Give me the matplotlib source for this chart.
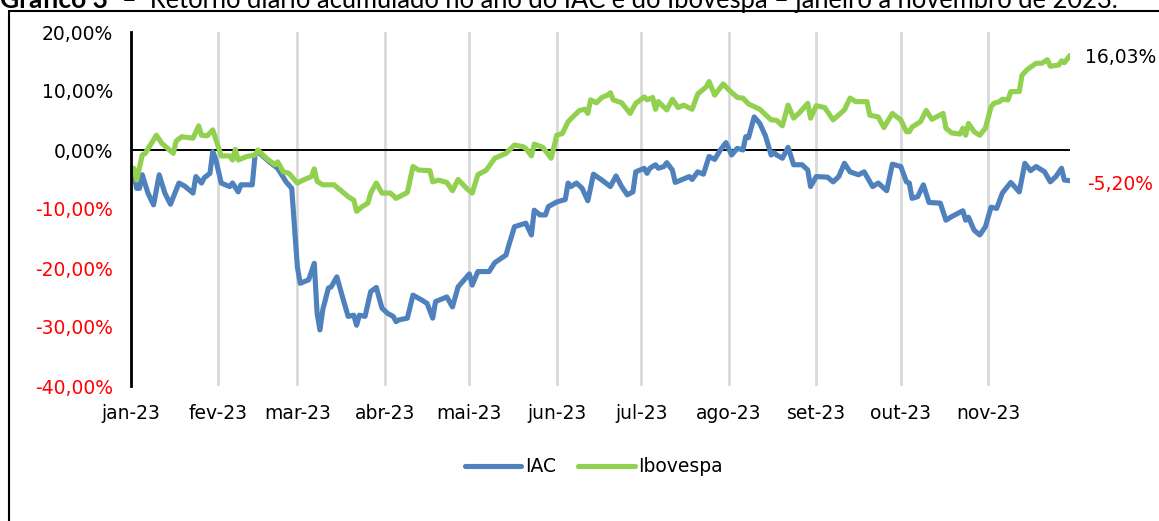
import matplotlib
matplotlib.use("Agg")
import matplotlib.pyplot as plt
import pandas as pd
from matplotlib.patches import Rectangle

# ---------------- data ----------------
datas_iac = [
    "2023-01-02", "2023-01-03", "2023-01-04", "2023-01-05", "2023-01-07", "2023-01-09",
    "2023-01-11", "2023-01-13", "2023-01-15", "2023-01-18", "2023-01-20", "2023-01-23",
    "2023-01-24", "2023-01-26", "2023-01-27", "2023-01-29", "2023-01-30", "2023-01-31",
    "2023-02-02", "2023-02-05", "2023-02-06", "2023-02-08", "2023-02-09", "2023-02-13",
    "2023-02-14", "2023-02-15", "2023-02-19", "2023-02-22", "2023-02-25", "2023-02-27",
    "2023-03-01", "2023-03-02", "2023-03-05", "2023-03-07", "2023-03-08", "2023-03-09",
    "2023-03-10", "2023-03-12", "2023-03-13", "2023-03-15", "2023-03-17", "2023-03-19",
    "2023-03-21", "2023-03-22", "2023-03-23", "2023-03-25", "2023-03-27", "2023-03-29",
    "2023-03-31", "2023-04-02", "2023-04-04", "2023-04-05", "2023-04-06", "2023-04-09",
    "2023-04-11", "2023-04-14", "2023-04-16", "2023-04-18", "2023-04-19", "2023-04-23",
    "2023-04-25", "2023-04-27", "2023-05-01", "2023-05-02", "2023-05-04", "2023-05-08",
    "2023-05-10", "2023-05-14", "2023-05-15", "2023-05-17", "2023-05-21", "2023-05-23",
    "2023-05-24", "2023-05-26", "2023-05-28", "2023-05-29", "2023-06-01", "2023-06-04",
    "2023-06-05", "2023-06-06", "2023-06-08", "2023-06-10", "2023-06-12", "2023-06-14",
    "2023-06-17", "2023-06-20", "2023-06-22", "2023-06-24", "2023-06-26", "2023-06-28",
    "2023-06-29", "2023-07-02", "2023-07-03", "2023-07-04", "2023-07-06", "2023-07-07",
    "2023-07-09", "2023-07-10", "2023-07-12", "2023-07-13", "2023-07-15", "2023-07-18",
    "2023-07-19", "2023-07-21", "2023-07-23", "2023-07-25", "2023-07-27", "2023-07-29",
    "2023-07-31", "2023-08-02", "2023-08-04", "2023-08-06", "2023-08-07", "2023-08-08",
    "2023-08-10", "2023-08-12", "2023-08-14", "2023-08-16", "2023-08-17", "2023-08-18",
    "2023-08-20", "2023-08-22", "2023-08-24", "2023-08-27", "2023-08-29", "2023-08-30",
    "2023-09-01", "2023-09-05", "2023-09-07", "2023-09-09", "2023-09-11", "2023-09-13",
    "2023-09-16", "2023-09-18", "2023-09-21", "2023-09-23", "2023-09-26", "2023-09-28",
    "2023-10-01", "2023-10-03", "2023-10-04", "2023-10-05", "2023-10-07", "2023-10-09",
    "2023-10-11", "2023-10-15", "2023-10-17", "2023-10-19", "2023-10-23", "2023-10-24",
    "2023-10-25", "2023-10-27", "2023-10-29", "2023-10-31", "2023-11-02", "2023-11-04",
    "2023-11-06", "2023-11-09", "2023-11-12", "2023-11-14", "2023-11-16", "2023-11-18",
    "2023-11-21", "2023-11-23", "2023-11-25", "2023-11-27", "2023-11-28", "2023-11-30",
]
iac = [
    -3.95, -6.5, -6.5, -4.2, -7.3, -9.3,
    -4.2, -7.3, -9.2, -5.6, -6.1, -7.3,
    -4.5, -5.6, -4.7, -3.95, -0.28, -1.5,
    -5.6, -6.2, -5.6, -7.1, -5.9, -5.9,
    -0.85, -0.28, -2.0, -3.1, -5.4, -6.5,
    -19.8, -22.6, -22.0, -19.2, -27.7, -30.5,
    -27.1, -23.4, -23.2, -21.5, -24.9, -28.2,
    -28.0, -29.7, -28.0, -28.2, -24.0, -23.3,
    -26.8, -27.7, -28.2, -29.1, -28.8, -28.5,
    -24.6, -25.4, -26.0, -28.5, -25.7, -24.9,
    -26.6, -23.2, -21.0, -22.9, -20.6, -20.6,
    -19.1, -17.8, -16.1, -13.0, -12.4, -14.4,
    -10.2, -11.0, -11.0, -9.6, -8.8, -8.4,
    -5.6, -6.2, -5.6, -6.5, -8.6, -4.1,
    -5.1, -6.2, -4.4, -6.2, -7.6, -7.1,
    -3.7, -3.1, -3.95, -3.1, -2.5, -3.1,
    -2.8, -2.15, -3.4, -5.5, -5.1, -4.5,
    -5.0, -3.7, -4.1, -1.1, -1.6, 0.0,
    1.25, -0.85, 0.28, 0.0, 2.25, 2.1,
    5.6, 4.5, 2.4, -0.85, -0.45, -0.85,
    -1.4, 0.45, -2.5, -2.5, -3.4, -6.2,
    -4.5, -4.6, -5.4, -4.5, -2.25, -3.7,
    -4.2, -3.7, -6.2, -5.6, -6.9, -2.4,
    -2.8, -5.4, -5.6, -8.2, -7.9, -5.9,
    -8.9, -9.0, -11.9, -11.3, -10.3, -11.9,
    -11.4, -13.6, -14.4, -13.0, -9.7, -9.9,
    -7.3, -5.5, -7.1, -2.25, -3.5, -2.8,
    -3.7, -5.4, -4.5, -3.1, -5.1, -5.20,
]

datas_ibov = [
    "2023-01-02", "2023-01-03", "2023-01-05", "2023-01-06", "2023-01-10", "2023-01-12",
    "2023-01-16", "2023-01-17", "2023-01-19", "2023-01-23", "2023-01-25", "2023-01-26",
    "2023-01-28", "2023-01-30", "2023-02-02", "2023-02-05", "2023-02-06", "2023-02-07",
    "2023-02-08", "2023-02-11", "2023-02-14", "2023-02-15", "2023-02-18", "2023-02-21",
    "2023-02-22", "2023-02-24", "2023-02-26", "2023-03-01", "2023-03-03", "2023-03-06",
    "2023-03-07", "2023-03-08", "2023-03-10", "2023-03-14", "2023-03-17", "2023-03-19",
    "2023-03-21", "2023-03-22", "2023-03-24", "2023-03-26", "2023-03-27", "2023-03-29",
    "2023-03-31", "2023-04-01", "2023-04-03", "2023-04-05", "2023-04-09", "2023-04-11",
    "2023-04-13", "2023-04-17", "2023-04-18", "2023-04-20", "2023-04-23", "2023-04-25",
    "2023-04-27", "2023-04-30", "2023-05-02", "2023-05-04", "2023-05-07", "2023-05-10",
    "2023-05-14", "2023-05-17", "2023-05-20", "2023-05-21", "2023-05-23", "2023-05-24",
    "2023-05-27", "2023-05-30", "2023-06-01", "2023-06-03", "2023-06-05", "2023-06-09",
    "2023-06-11", "2023-06-12", "2023-06-13", "2023-06-15", "2023-06-17", "2023-06-19",
    "2023-06-20", "2023-06-21", "2023-06-24", "2023-06-27", "2023-06-29", "2023-07-02",
    "2023-07-03", "2023-07-05", "2023-07-06", "2023-07-07", "2023-07-10", "2023-07-12",
    "2023-07-14", "2023-07-16", "2023-07-19", "2023-07-21", "2023-07-24", "2023-07-25",
    "2023-07-27", "2023-07-30", "2023-08-01", "2023-08-04", "2023-08-06", "2023-08-08",
    "2023-08-12", "2023-08-16", "2023-08-17", "2023-08-18", "2023-08-20", "2023-08-22",
    "2023-08-24", "2023-08-26", "2023-08-29", "2023-08-30", "2023-09-01", "2023-09-04",
    "2023-09-07", "2023-09-11", "2023-09-13", "2023-09-15", "2023-09-19", "2023-09-20",
    "2023-09-23", "2023-09-25", "2023-09-28", "2023-10-01", "2023-10-03", "2023-10-04",
    "2023-10-05", "2023-10-08", "2023-10-10", "2023-10-12", "2023-10-16", "2023-10-17",
    "2023-10-19", "2023-10-22", "2023-10-23", "2023-10-24", "2023-10-25", "2023-10-27",
    "2023-10-29", "2023-10-31", "2023-11-02", "2023-11-03", "2023-11-05", "2023-11-06",
    "2023-11-08", "2023-11-09", "2023-11-12", "2023-11-13", "2023-11-15", "2023-11-18",
    "2023-11-20", "2023-11-22", "2023-11-23", "2023-11-26", "2023-11-27", "2023-11-28",
    "2023-11-30",
]
ibov = [
    -3.1, -5.1, -0.85, -0.6, 2.5, 1.1,
    -0.56, 1.5, 2.25, 2.0, 4.1, 2.5,
    2.4, 3.4, -1.0, -1.0, -1.7, 0.1,
    -1.7, -1.1, -0.85, 0.0, -1.4, -2.5,
    -2.0, -3.7, -3.95, -5.6, -5.1, -4.5,
    -3.2, -5.3, -5.9, -5.9, -7.1, -7.9,
    -8.5, -10.4, -9.6, -9.0, -7.3, -5.6,
    -7.3, -7.3, -7.3, -8.2, -7.2, -2.8,
    -3.4, -3.5, -5.4, -5.1, -5.5, -6.9,
    -5.0, -6.5, -7.3, -4.2, -3.4, -1.4,
    -0.56, 0.85, 0.56, 0.28, -1.0, 1.0,
    0.45, -1.4, 2.5, 2.8, 4.8, 6.7,
    6.9, 6.2, 8.5, 8.0, 8.9, 9.3,
    9.7, 8.5, 8.0, 6.2, 7.9, 9.0,
    8.5, 8.9, 6.9, 8.2, 6.8, 8.6,
    7.2, 7.6, 6.9, 9.5, 10.7, 11.6,
    9.3, 11.2, 10.2, 8.9, 8.8, 7.8,
    6.9, 5.1, 5.1, 5.0, 4.1, 7.6,
    5.4, 6.3, 7.9, 5.4, 7.5, 7.2,
    5.1, 6.8, 8.8, 8.2, 8.2, 5.9,
    5.6, 3.8, 6.2, 5.1, 3.1, 3.1,
    3.9, 4.8, 6.7, 5.2, 6.2, 3.7,
    2.9, 2.7, 3.7, 2.5, 4.5, 3.1,
    2.5, 3.7, 7.3, 7.9, 8.2, 8.6,
    8.5, 9.9, 9.9, 12.7, 13.7, 14.7,
    14.7, 15.3, 14.2, 14.4, 15.1, 14.8,
    16.03,
]

meses = ["jan-23", "fev-23", "mar-23", "abr-23", "mai-23", "jun-23",
         "jul-23", "ago-23", "set-23", "out-23", "nov-23"]
inicio_meses = ["2023-01-01", "2023-02-01", "2023-03-01", "2023-04-01", "2023-05-01",
                "2023-06-01", "2023-07-01", "2023-08-01", "2023-09-01", "2023-10-01",
                "2023-11-01"]
y_ticks = [20, 10, 0, -10, -20, -30, -40]
y_labels = ["20,00%", "10,00%", "0,00%", "-10,00%", "-20,00%", "-30,00%", "-40,00%"]
serie_nomes = ["IAC", "Ibovespa"]
titulo_negrito = "Gráfico 3"
titulo_resto = "–  Retorno diário acumulado no ano do IAC e do Ibovespa – janeiro a novembro de 2023."

# ---------------- figure ----------------
W, H = 1159, 521
fig = plt.figure(figsize=(W / 100, H / 100), dpi=100)
plt.rcParams["font.family"] = "DejaVu Sans"
title_font = "Lato"

ax = fig.add_axes([131 / W, 1 - 386 / H, (1070 - 131) / W, (386 - 32) / H])

x_iac = pd.to_datetime(datas_iac)
x_ibov = pd.to_datetime(datas_ibov)
blue = "#4F81BD"
green = "#92D050"

ax.plot(x_iac, iac, color=blue, lw=3.7, solid_capstyle="round", solid_joinstyle="round",
        label=serie_nomes[0], zorder=3)
ax.plot(x_ibov, ibov, color=green, lw=3.7, solid_capstyle="round", solid_joinstyle="round",
        label=serie_nomes[1], zorder=3)
ax.axhline(0, color="black", lw=1.4, zorder=2)

ax.set_xlim(pd.Timestamp("2023-01-01"), pd.Timestamp("2023-11-30"))
ax.set_ylim(-40, 20)
ax.set_xticks(pd.to_datetime(inicio_meses))
ax.set_xticklabels(meses, fontsize=13.5)
ax.set_yticks(y_ticks)
ax.set_yticklabels(y_labels, fontsize=13.5)
for lbl, v in zip(ax.get_yticklabels(), y_ticks):
    lbl.set_color("red" if v < 0 else "black")
ax.tick_params(axis="both", length=0)
ax.tick_params(axis="y", pad=13)
ax.tick_params(axis="x", pad=13)
ax.xaxis.grid(True, color="#d9d9d9", lw=2)
ax.set_axisbelow(True)
for s in ["top", "right", "bottom"]:
    ax.spines[s].set_visible(False)
ax.spines["left"].set_linewidth(2)
ax.spines["left"].set_zorder(4)

fmt = lambda v: f"{v:.2f}".replace(".", ",") + "%"
ax.annotate(fmt(ibov[-1]), xy=(x_ibov[-1], ibov[-1]), xytext=(11, -1.5),
            textcoords="offset points", va="center", ha="left", fontsize=13.5,
            color="black", annotation_clip=False)
ax.annotate(fmt(iac[-1]), xy=(x_iac[-1], iac[-1]), xytext=(12, -2.5),
            textcoords="offset points", va="center", ha="left", fontsize=13.5,
            color="red", annotation_clip=False)

fig.legend(loc="center", bbox_to_anchor=(594 / W, 1 - 467 / H), ncol=2, frameon=False,
           fontsize=13.5, handlelength=3.0, columnspacing=1.2, handletextpad=0.2)

# outer border (clipped at right/bottom, as in the source)
fig.patches.append(Rectangle((9 / W, -0.1), 1.2, 1 - 11 / H + 0.1, transform=fig.transFigure,
                             fill=False, edgecolor="black", lw=1.5))

# caption on top (partially clipped in the source image)
y_base = 1 - 8 / H
fs = 19
t1 = fig.text(0.0, y_base, titulo_negrito, fontsize=fs, fontweight="bold",
              family=title_font, va="baseline", ha="left")
fig.canvas.draw()
r = fig.canvas.get_renderer()
x_start = t1.get_window_extent(r).x1 + 14
t2 = fig.text(x_start / W, y_base, titulo_resto, fontsize=fs, family=title_font,
              va="baseline", ha="left")
w2 = t2.get_window_extent(r).width
t2.set_fontsize(fs * (1120 - x_start) / w2)

fig.savefig("out.png", dpi=100)
